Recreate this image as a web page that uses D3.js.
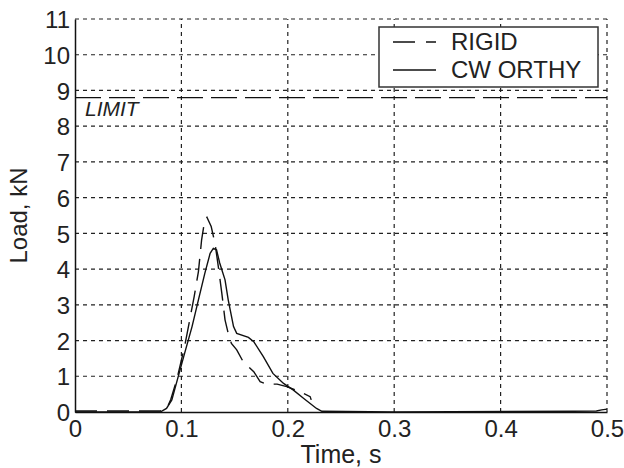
<!DOCTYPE html>
<html lang="en">
<head>
<meta charset="UTF-8">
<title>Load vs time</title>
<script src="https://cdn.jsdelivr.net/npm/d3@7"></script>
<style>
  body { margin: 0; background: #fff; }
  text { font-family: "Liberation Sans", Arial, sans-serif; fill: #222; }
</style>
</head>
<body>
<div id="container"></div>
<script>
const xTicks = [0, 0.1, 0.2, 0.3, 0.4, 0.5];
const yTicks = [0, 1, 2, 3, 4, 5, 6, 7, 8, 9, 10, 11];
const limitValue = 8.8;

// RIGID (dashed)
const rigidT = [0, 0.02, 0.045, 0.06, 0.08, 0.086, 0.09, 0.0956, 0.103, 0.112, 0.116, 0.119, 0.122, 0.124,
  0.128, 0.1316, 0.1347, 0.138, 0.141, 0.144, 0.147, 0.152, 0.158, 0.163, 0.168, 0.174, 0.18, 0.19, 0.199, 0.211, 0.221, 0.222];
const rigidV = [0.03, 0.03, 0.03, 0.03, 0.03, 0.08, 0.35, 0.9, 1.83, 3.23, 3.93, 4.82, 5.38, 5.45,
  5.19, 4.72, 4.07, 3.32, 2.58, 2.2, 1.92, 1.74, 1.41, 1.27, 1.13, 0.85, 0.78, 0.78, 0.71, 0.57, 0.43, 0.34];

// CWORTHY (solid)
const cwT = [0, 0.08, 0.086, 0.091, 0.097, 0.103, 0.11, 0.116, 0.122, 0.127, 0.13, 0.133, 0.136, 0.141, 0.144,
  0.149, 0.152, 0.163, 0.168, 0.177, 0.186, 0.196, 0.205, 0.215, 0.227, 0.232, 0.3, 0.468, 0.49, 0.495, 0.5];
const cwV = [0, 0, 0.1, 0.34, 0.99, 1.64, 2.39, 3.14, 3.88, 4.44, 4.58, 4.54, 4.17, 3.7, 3.14,
  2.39, 2.2, 2.09, 1.97, 1.55, 1.08, 0.8, 0.62, 0.38, 0.1, 0.02, 0, 0.02, 0.03, 0.06, 0.08];

const width = 624, height = 468;
const margin = {top: 19, right: 17, bottom: 56, left: 75};

const svg = d3.select("#container").append("svg")
  .attr("width", width).attr("height", height);

const x = d3.scaleLinear().domain([0, 0.5]).range([margin.left, width - margin.right]);
const y = d3.scaleLinear().domain([0, 11]).range([height - margin.bottom, margin.top]);

// grid
svg.append("g").selectAll("line").data(xTicks.slice(1)).join("line")
  .attr("x1", d => x(d)).attr("x2", d => x(d))
  .attr("y1", y(0)).attr("y2", y(11))
  .attr("stroke", "#222").attr("stroke-width", 1.2).attr("stroke-dasharray", "4,4");
svg.append("g").selectAll("line").data(yTicks.slice(1)).join("line")
  .attr("x1", x(0)).attr("x2", x(0.5))
  .attr("y1", d => y(d)).attr("y2", d => y(d))
  .attr("stroke", "#222").attr("stroke-width", 1.2).attr("stroke-dasharray", "4,4");

// axes
const xAxis = svg.append("g").attr("transform", `translate(0,${y(0)})`)
  .call(d3.axisBottom(x).tickValues(xTicks).tickFormat(d => d).tickSize(0).tickPadding(6));
const yAxis = svg.append("g").attr("transform", `translate(${x(0)},0)`)
  .call(d3.axisLeft(y).tickValues(yTicks).tickSize(0).tickPadding(5));
[xAxis, yAxis].forEach(a => {
  a.select(".domain").attr("stroke", "#111").attr("stroke-width", 1.5);
  a.selectAll("text").attr("font-size", 24).attr("fill", "#222")
    .attr("font-family", "'Liberation Sans', Arial, sans-serif");
});
xAxis.selectAll("text").attr("y", 0).attr("dy", 25);
yAxis.selectAll("text").attr("dy", "0.36em");

// limit line
svg.append("line")
  .attr("x1", x(0)).attr("x2", x(0.5))
  .attr("y1", y(limitValue)).attr("y2", y(limitValue))
  .attr("stroke", "#111").attr("stroke-width", 1.4).attr("stroke-dasharray", "26,8");
svg.append("text")
  .attr("x", x(0) + 10).attr("y", y(limitValue) + 18)
  .attr("font-size", 21).attr("font-style", "italic")
  .text("LIMIT");

// curves
const line = d3.line().x(d => x(d[0])).y(d => y(d[1]));
svg.append("path")
  .datum(d3.zip(rigidT, rigidV))
  .attr("d", line).attr("fill", "none")
  .attr("stroke", "#111").attr("stroke-width", 1.4).attr("stroke-dasharray", "22,10");
svg.append("path")
  .datum(d3.zip(cwT, cwV))
  .attr("d", line).attr("fill", "none")
  .attr("stroke", "#111").attr("stroke-width", 1.4);

// axis titles
svg.append("text")
  .attr("x", x(0.25)).attr("y", 463)
  .attr("text-anchor", "middle").attr("font-size", 25)
  .text("Time, s");
svg.append("text")
  .attr("transform", `translate(27,${y(5.5)}) rotate(-90)`)
  .attr("text-anchor", "middle").attr("font-size", 24)
  .text("Load, kN");

// legend
const lg = svg.append("g");
lg.append("rect")
  .attr("x", 379).attr("y", 27).attr("width", 219).attr("height", 60)
  .attr("fill", "#fff").attr("stroke", "#333").attr("stroke-width", 1.5);
const legendItems = [
  {label: "RIGID", dash: "22,11", yy: 42},
  {label: "CW ORTHY", dash: null, yy: 70}
];
legendItems.forEach(it => {
  lg.append("line")
    .attr("x1", 393).attr("x2", 436).attr("y1", it.yy).attr("y2", it.yy)
    .attr("stroke", "#111").attr("stroke-width", 1.3)
    .attr("stroke-dasharray", it.dash);
  lg.append("text")
    .attr("x", 451).attr("y", it.yy + 8)
    .attr("font-size", 24).text(it.label);
});
</script>
</body>
</html>
